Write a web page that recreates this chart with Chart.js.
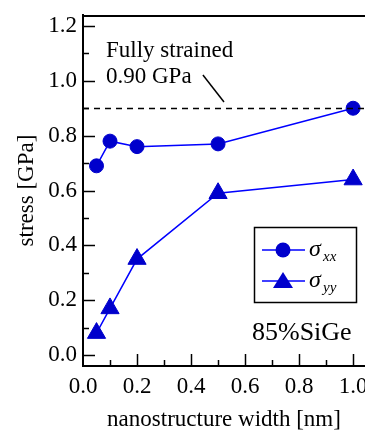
<!DOCTYPE html>
<html>
<head>
<meta charset="utf-8">
<script src="https://cdn.jsdelivr.net/npm/chart.js@4.4.0/dist/chart.umd.min.js"></script>
<style>
  html, body { margin: 0; padding: 0; background: #fff; }
  #wrap { width: 365px; height: 432px; }
</style>
</head>
<body>
<div id="wrap"><canvas id="grafico"></canvas></div>
<script>
// datos
const anchos = [0.05, 0.1, 0.2, 0.5, 1.0];
const sigmaXX = [0.69, 0.78, 0.76, 0.77, 0.90];
const sigmaYY = [0.08, 0.17, 0.35, 0.59, 0.64];
const ticksX = [0.0, 0.2, 0.4, 0.6, 0.8, 1.0];
const ticksY = [0.0, 0.2, 0.4, 0.6, 0.8, 1.0, 1.2];
const tensionCompleta = 0.90;

const FUENTE = "'Liberation Serif', 'Times New Roman', serif";
const AZUL = '#0000ff';
const AZUL_MARCA = '#0000cc';

// quitar el relleno automatico que agrega Chart.js por las etiquetas
function sinRelleno(s) {
    s.paddingLeft = 0;
    s.paddingRight = 0;
    s.paddingTop = 0;
    s.paddingBottom = 0;
}

// ticks hacia adentro, linea superior, linea punteada y textos
const decoracion = {
    id: 'decoracion',
    afterDraw(chart) {
        const ctx = chart.ctx;
        const area = chart.chartArea;
        const sx = chart.scales.x;
        const sy = chart.scales.y;
        ctx.save();
        ctx.strokeStyle = '#000';
        ctx.lineWidth = 1.5;

        // ticks eje x
        for (let i = 1; i <= 10; i++) {
            const v = i / 10;
            const px = Math.round(sx.getPixelForValue(v)) + 0.5;
            const largo = (i % 2 === 0) ? 12 : 6;
            ctx.beginPath();
            ctx.moveTo(px, area.bottom);
            ctx.lineTo(px, area.bottom - largo);
            ctx.stroke();
        }
        // ticks eje y
        for (let i = 0; i <= 12; i++) {
            const v = i / 10;
            const py = Math.round(sy.getPixelForValue(v)) + 0.5;
            const largo = (i % 2 === 0) ? 12 : 6;
            ctx.beginPath();
            ctx.moveTo(area.left, py);
            ctx.lineTo(area.left + largo, py);
            ctx.stroke();
        }

        // borde superior
        ctx.lineWidth = 2;
        ctx.beginPath();
        ctx.moveTo(area.left, area.top + 1);
        ctx.lineTo(area.right, area.top + 1);
        ctx.stroke();

        // linea de tension completa
        const y09 = Math.round(sy.getPixelForValue(tensionCompleta)) + 0.5;
        ctx.lineWidth = 1.5;
        ctx.setLineDash([6, 5]);
        ctx.beginPath();
        ctx.moveTo(area.left, y09);
        ctx.lineTo(area.right, y09);
        ctx.stroke();
        ctx.setLineDash([]);

        // guia hacia la linea punteada
        ctx.beginPath();
        ctx.moveTo(sx.getPixelForValue(0.444), sy.getPixelForValue(1.021));
        ctx.lineTo(sx.getPixelForValue(0.522), sy.getPixelForValue(0.923));
        ctx.stroke();

        ctx.fillStyle = '#000';
        ctx.textAlign = 'left';
        ctx.textBaseline = 'alphabetic';
        ctx.font = '23px ' + FUENTE;
        ctx.fillText('Fully strained', 106, 57);
        ctx.fillText('0.90 GPa', 106, 83);

        ctx.font = '26px ' + FUENTE;
        ctx.fillText('85%SiGe', 252, 340);

        // leyenda
        const caja = { x: 254.5, y: 227.5, w: 102, h: 75 };
        ctx.lineWidth = 1.5;
        ctx.strokeRect(caja.x, caja.y, caja.w, caja.h);
        const filas = [
            { y: 250, forma: 'circle', sub: 'xx' },
            { y: 281, forma: 'triangle', sub: 'yy' }
        ];
        filas.forEach(f => {
            ctx.strokeStyle = AZUL;
            ctx.lineWidth = 1.5;
            ctx.beginPath();
            ctx.moveTo(262, f.y);
            ctx.lineTo(305, f.y);
            ctx.stroke();
            ctx.fillStyle = AZUL_MARCA;
            ctx.beginPath();
            if (f.forma === 'circle') {
                ctx.arc(283, f.y, 7.5, 0, Math.PI * 2);
            } else {
                ctx.moveTo(283, f.y - 9);
                ctx.lineTo(293, f.y + 7);
                ctx.lineTo(273, f.y + 7);
                ctx.closePath();
            }
            ctx.fill();
            ctx.fillStyle = '#000';
            ctx.font = 'italic 24px ' + FUENTE;
            ctx.fillText('\u03c3', 309, f.y + 6);
            ctx.font = 'italic 15px ' + FUENTE;
            ctx.fillText(f.sub, 323, f.y + 11);
        });
        ctx.restore();
    }
};

const ctx = document.getElementById('grafico').getContext('2d');
new Chart(ctx, {
    type: 'line',
    data: {
        datasets: [{
            label: 'sigma_xx',
            data: anchos.map((x, i) => ({ x: x, y: sigmaXX[i] })),
            borderColor: AZUL,
            borderWidth: 1.5,
            pointStyle: 'circle',
            pointRadius: 7,
            pointBackgroundColor: AZUL_MARCA,
            pointBorderColor: AZUL_MARCA,
            pointBorderWidth: 1,
            clip: false
        }, {
            label: 'sigma_yy',
            data: anchos.map((x, i) => ({ x: x, y: sigmaYY[i] })),
            borderColor: AZUL,
            borderWidth: 1.5,
            pointStyle: 'triangle',
            pointRadius: 10.5,
            pointBackgroundColor: AZUL_MARCA,
            pointBorderColor: AZUL_MARCA,
            pointBorderWidth: 1,
            clip: false
        }]
    },
    options: {
        responsive: true,
        maintainAspectRatio: false,
        animation: false,
        devicePixelRatio: 1,
        layout: { autoPadding: false, padding: { top: 15, right: 0, bottom: 0, left: 0 } },
        plugins: {
            legend: { display: false },
            tooltip: { enabled: false }
        },
        scales: {
            x: {
                type: 'linear',
                min: 0,
                max: 1.044,
                afterFit: s => { s.height = 66; sinRelleno(s); },
                afterBuildTicks: s => { s.ticks = ticksX.map(v => ({ value: v })); },
                grid: { display: false, drawTicks: false },
                border: { display: true, color: '#000', width: 2 },
                ticks: {
                    color: '#000',
                    padding: 7,
                    maxRotation: 0,
                    font: { family: FUENTE, size: 23 },
                    callback: v => v.toFixed(1)
                },
                title: {
                    display: true,
                    text: 'nanostructure width [nm]',
                    color: '#000',
                    font: { family: FUENTE, size: 23, lineHeight: 1 },
                    padding: { top: 0, bottom: 1 }
                }
            },
            y: {
                type: 'linear',
                min: -0.040,
                max: 1.240,
                afterFit: s => { s.width = 83; sinRelleno(s); },
                afterBuildTicks: s => { s.ticks = ticksY.map(v => ({ value: v })); },
                grid: { display: false, drawTicks: false },
                border: { display: true, color: '#000', width: 2 },
                ticks: {
                    color: '#000',
                    padding: 6,
                    font: { family: FUENTE, size: 23 },
                    callback: v => v.toFixed(1)
                },
                title: {
                    display: true,
                    text: 'stress [GPa]',
                    color: '#000',
                    font: { family: FUENTE, size: 23, lineHeight: 1 },
                    padding: { top: 15, bottom: 0 }
                }
            }
        }
    },
    plugins: [decoracion]
});
</script>
</body>
</html>
